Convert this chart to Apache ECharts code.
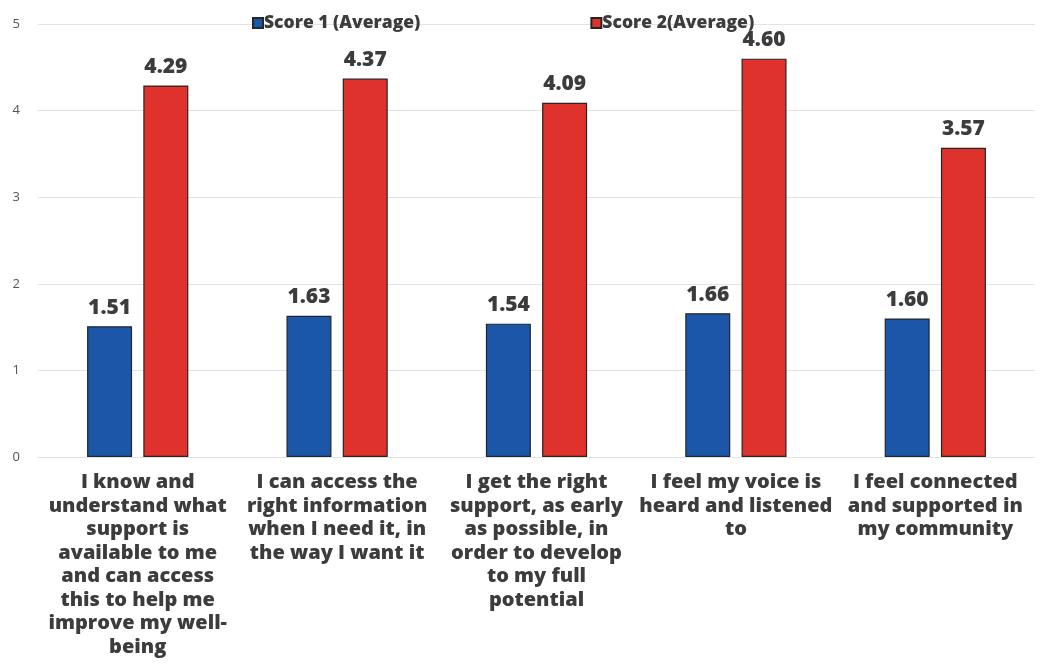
<!DOCTYPE html>
<html>
<head>
<meta charset="utf-8">
<script src="https://cdn.jsdelivr.net/npm/echarts@6/dist/echarts.min.js"></script>
<style>
  html, body { margin: 0; padding: 0; background: #ffffff; }
  #chart { width: 1064px; height: 666px; }
</style>
</head>
<body>
<div id="chart"></div>
<script>
// Survey statements (category axis)
const categories = [
  "I know and\nunderstand what\nsupport is\navailable to me\nand can access\nthis to help me\nimprove my well-\nbeing",
  "I can access the\nright information\nwhen I need it, in\nthe way I want it",
  "I get the right\nsupport, as early\nas possible, in\norder to develop\nto my full\npotential",
  "I feel my voice is\nheard and listened\nto",
  "I feel connected\nand supported in\nmy community"
];

// Average scores per statement
const score1 = [1.51, 1.63, 1.54, 1.66, 1.60];
const score2 = [4.29, 4.37, 4.09, 4.60, 3.57];

const seriesNames = ["Score 1 (Average)", "Score 2(Average)"];
const yTicks = [0, 1, 2, 3, 4, 5];

const FONT = "'Open Sans', 'Noto Sans', sans-serif";
const TEXT = "#3c3c3c";

const chart = echarts.init(document.getElementById("chart"));

const valueLabel = {
  show: true,
  position: "top",
  distance: 8,
  formatter: p => p.value.toFixed(2),
  fontFamily: FONT,
  fontWeight: 800,
  fontSize: 21,
  color: TEXT
};

chart.setOption({
  backgroundColor: "#ffffff",
  animation: false,
  legend: {
    top: 9,
    left: 247,
    itemGap: 170,
    itemWidth: 10,
    itemHeight: 10,
    icon: "rect",
    data: seriesNames,
    textStyle: {
      fontFamily: FONT,
      fontWeight: 800,
      fontSize: 17.5,
      color: TEXT,
      padding: [0, 0, 0, -4]
    }
  },
  grid: {
    left: 38,
    right: 29,
    top: 24,
    bottom: 209
  },
  xAxis: {
    type: "category",
    data: categories,
    axisLine: { show: false },
    axisTick: { show: false },
    axisLabel: {
      interval: 0,
      margin: 14,
      fontFamily: FONT,
      fontWeight: 800,
      fontSize: 20,
      lineHeight: 23.5,
      color: TEXT,
      align: "center"
    }
  },
  yAxis: {
    type: "value",
    min: yTicks[0],
    max: yTicks[yTicks.length - 1],
    interval: 1,
    axisLine: { show: false },
    axisTick: { show: false },
    axisLabel: {
      margin: 18,
      fontFamily: FONT,
      fontSize: 13,
      color: "#555555"
    },
    splitLine: { lineStyle: { color: "#e2e2e2", width: 1 } }
  },
  series: [
    {
      name: seriesNames[0],
      type: "bar",
      data: score1,
      barWidth: 45,
      barGap: "25%",
      itemStyle: { color: "#1b56a8", borderColor: "#22262e", borderWidth: 1.2 },
      label: valueLabel
    },
    {
      name: seriesNames[1],
      type: "bar",
      data: score2,
      barWidth: 45,
      itemStyle: { color: "#e0322c", borderColor: "#2a2222", borderWidth: 1.2 },
      label: valueLabel
    }
  ]
});
</script>
</body>
</html>
